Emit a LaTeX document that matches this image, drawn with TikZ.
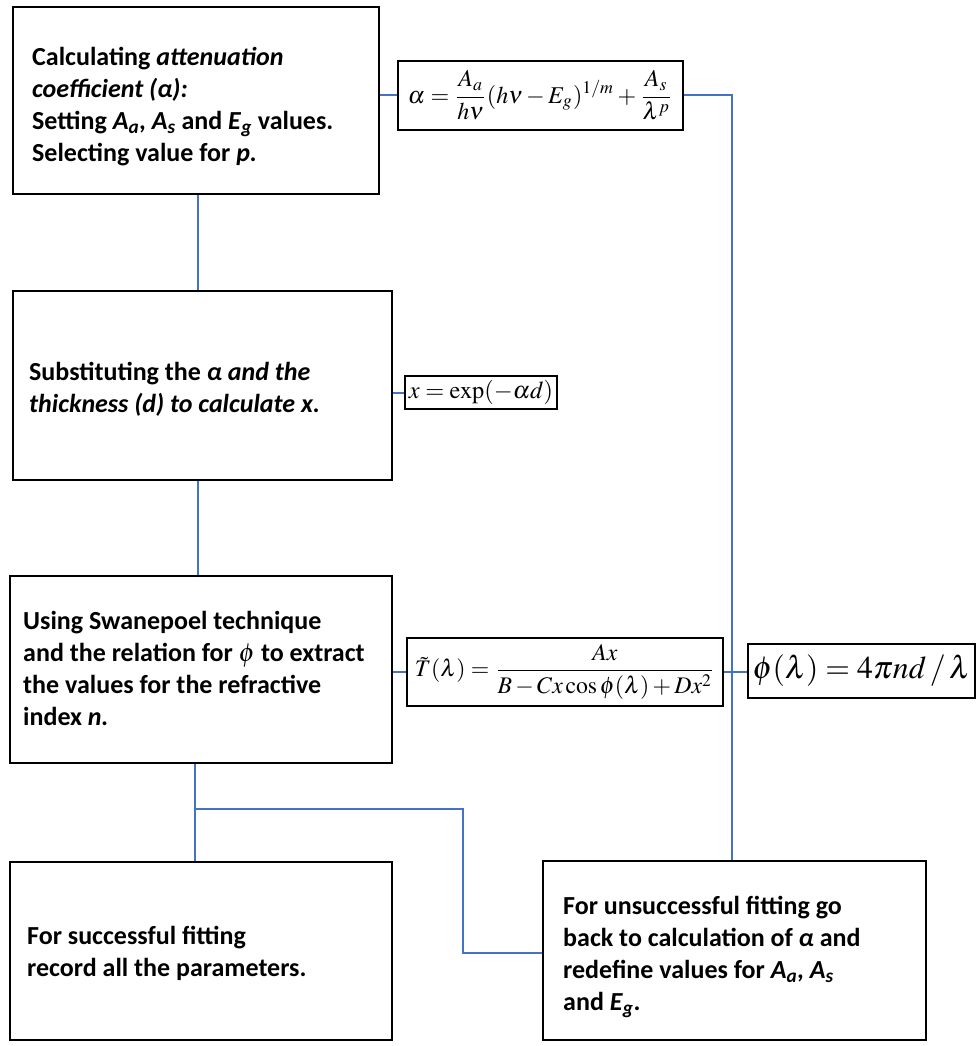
\documentclass[tikz,border=0pt]{standalone}
\usepackage[no-math]{fontspec}
\usepackage{mathptmx}
\setmainfont{Carlito}
\usepackage{graphicx}
\definecolor{lineblue}{RGB}{68,114,196}
\begin{document}
\begin{tikzpicture}[x=1pt,y=-1pt,
  box/.style={draw=black, line width=2.2pt, inner sep=0pt},
  fbox/.style={draw=black, line width=2pt, fill=white, inner sep=0pt},
  txt/.style={font=\fontsize{26}{32}\selectfont\bfseries, align=left, inner sep=0pt, anchor=west},
  conn/.style={draw=lineblue, line width=2pt}]
\useasboundingbox (0,0) rectangle (976,1046);
% flow boxes
\node[box, minimum width=366pt, minimum height=187pt] (b1) at (196,100.5) {};
\node[box, minimum width=379pt, minimum height=189pt] (b2) at (202.5,385.5) {};
\node[box, minimum width=382pt, minimum height=187pt] (b3) at (201,669.5) {};
\node[box, minimum width=382pt, minimum height=178pt] (b4) at (201,951) {};
\node[box, minimum width=383pt, minimum height=179pt] (b5) at (734.5,950.5) {};
% texts
\node[txt] (t1) at (32,107) {Calculating \textit{attenuation}\\ \textit{coefficient (α):}\\ Setting \textit{A}\textsubscript{\textit{a}}, \textit{A}\textsubscript{\textit{s}} and \textit{E}\textsubscript{\textit{g}} values.\\ Selecting value for \textit{p.}};
\node[txt] (t2) at (29,389) {Substituting the \textit{α and the}\\ \textit{thickness (d) to calculate x.}};
\node[txt] (t3) at (23,668) {Using Swanepoel technique\\ and the relation for {\boldmath$\phi$} to extract\\ the values for the refractive\\ index \textit{n.}};
\node[txt] (t4) at (27,953) {For successful fitting\\ record all the parameters.};
\node[txt] (t5) at (563,957) {For unsuccessful fitting go\\ back to calculation of \textit{α} and\\ redefine values for \textit{A}\textsubscript{\textit{a}}, \textit{A}\textsubscript{\textit{s}}\\ and \textit{E}\textsubscript{\textit{g}}.};
% formula boxes
\node[fbox, minimum width=285pt, minimum height=69pt] (fa) at (540.5,95.5)
  {\resizebox{265pt}{!}{$\displaystyle \alpha=\frac{A_a}{h\nu}(h\nu-E_g)^{1/m}+\frac{A_s}{\lambda^p}$}};
\node[fbox, minimum width=152pt, minimum height=33pt] (fx) at (481,392.5)
  {\resizebox{144pt}{!}{$x=\exp(-\alpha d)$}};
\node[fbox, minimum width=316pt, minimum height=68pt] (ft) at (565,672)
  {\resizebox{300pt}{!}{$\displaystyle \tilde{T}(\lambda)=\frac{Ax}{B-Cx\cos\phi(\lambda)+Dx^2}$}};
\node[fbox, minimum width=227pt, minimum height=54pt] (fp) at (861.5,671)
  {\resizebox{218pt}{!}{$\phi(\lambda)=4\pi nd\,/\,\lambda$}};
% connectors
\coordinate (v) at (732,0);
\coordinate (v2) at (198,0);
\coordinate (j) at (195,809);
\coordinate (k) at (463,953);
\draw[conn] (b1.east |- fa.west) -- (fa.west);
\draw[conn] (fa.east) -- (fa.east -| v) -- (b5.north -| v);
\draw[conn] (b1.south -| v2) -- (b2.north -| v2);
\draw[conn] (b2.east |- fx.west) -- (fx.west);
\draw[conn] (b2.south -| v2) -- (b3.north -| v2);
\draw[conn] (b3.east |- ft.west) -- (ft.west);
\draw[conn] (ft.east) -- (ft.east -| fp.west);
\draw[conn] (b3.south -| j) -- (b4.north -| j);
\draw[conn] (j) -| (k) -- (k -| b5.west);
\end{tikzpicture}
\end{document}
